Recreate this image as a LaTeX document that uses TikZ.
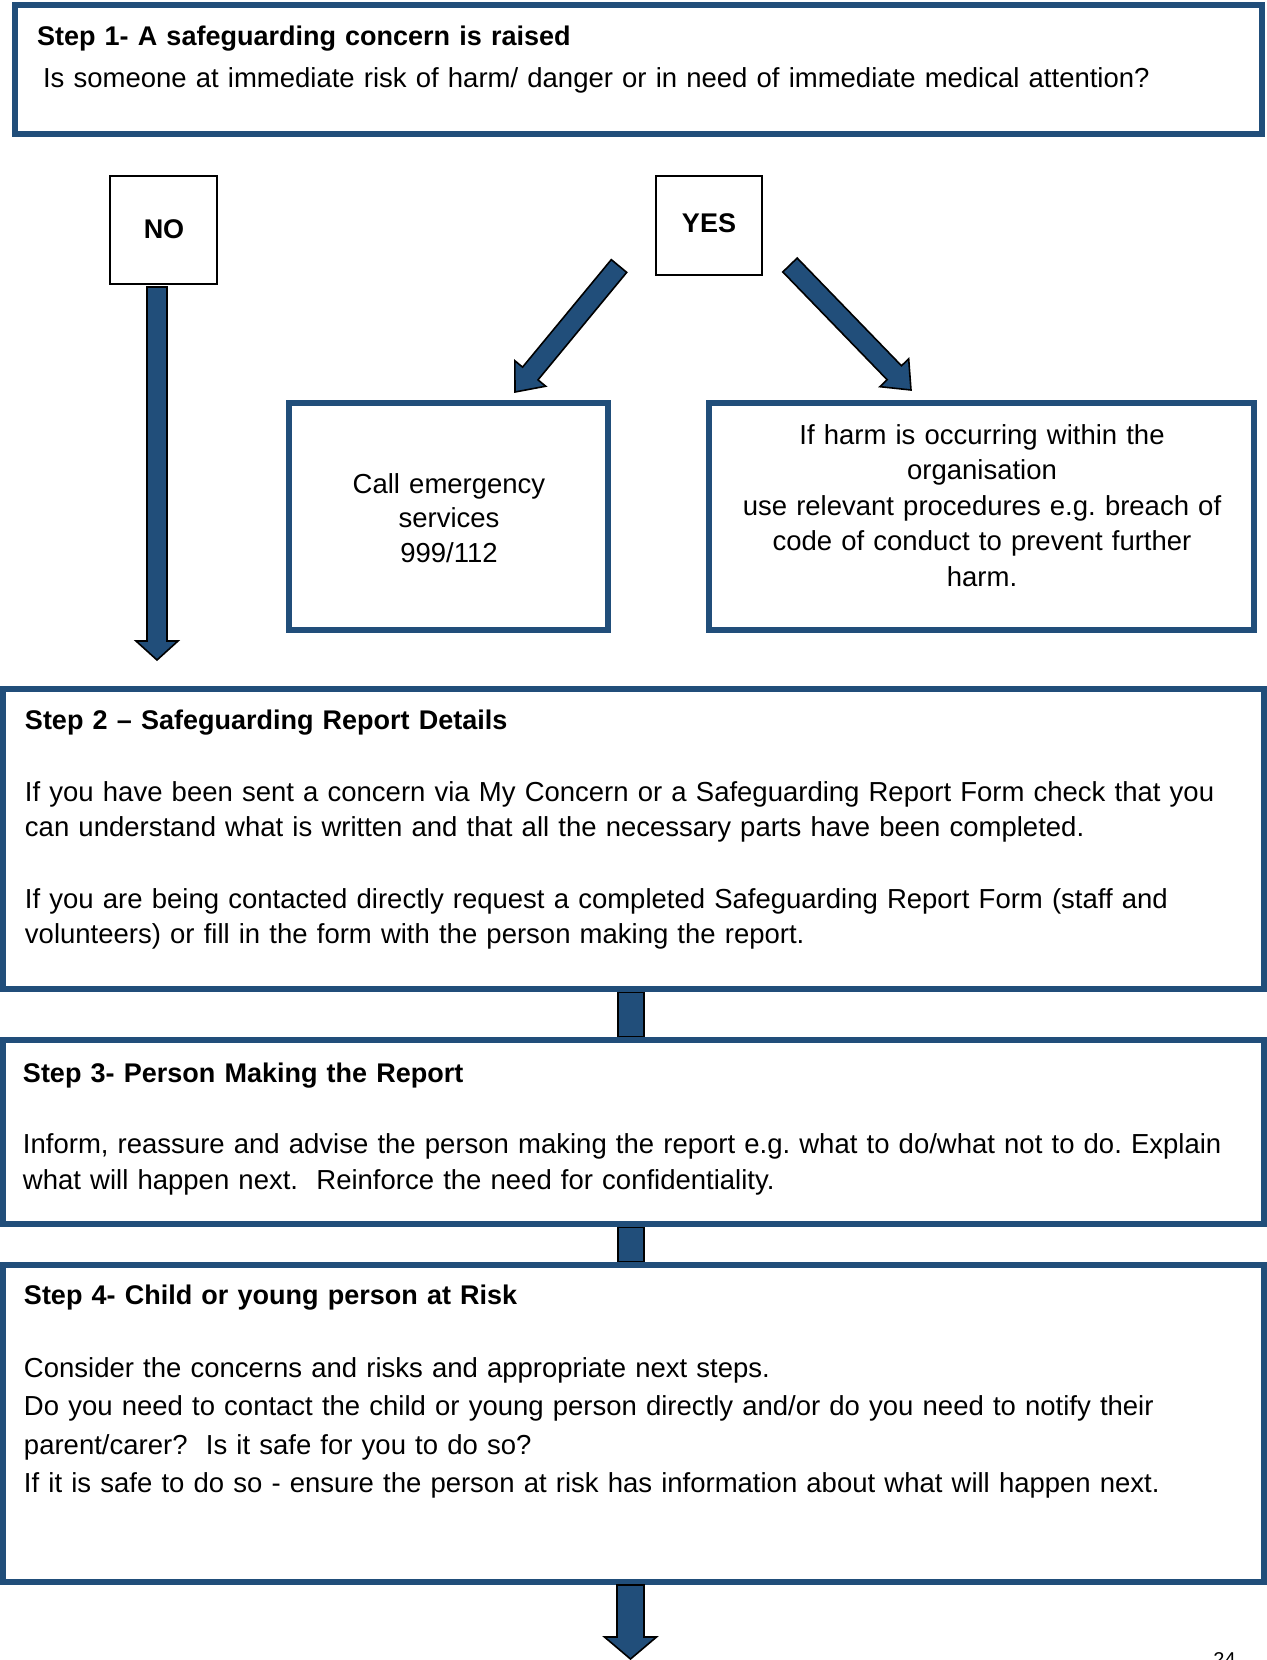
\documentclass[tikz,border=0pt]{standalone}
\usepackage{fontspec}
\setmainfont{Liberation Sans}
\usetikzlibrary{calc}
\definecolor{navy}{RGB}{33,78,122}
\newcommand\blockarrow[5]{%
  \coordinate (bah) at ($(#2)!#5!(#1)$);
  \draw[fatarrow] ($(#1)!#3!90:(#2)$) -- ($(bah)!#3!90:(#2)$) -- ($(bah)!#4!90:(#2)$) -- (#2)
    -- ($(bah)!#4!-90:(#2)$) -- ($(bah)!#3!-90:(#2)$) -- ($(#1)!#3!-90:(#2)$) -- cycle;}
\newcommand\ttl[1]{{\fontsize{13.5}{17}\selectfont\bfseries #1}}
\begin{document}
\frenchspacing
\begin{tikzpicture}[x=0.5pt,y=-0.5pt,
  bluebox/.style={draw=navy, line width=3pt, fill=white, inner sep=0pt, outer sep=0pt},
  thinbox/.style={draw=black, line width=0.8pt, fill=white, inner sep=0pt, outer sep=0pt},
  fatarrow/.style={fill=navy, draw=black, line width=0.8pt, line join=miter},
  txt/.style={inner sep=0pt, outer sep=0pt, anchor=base west, text width=620pt, align=left},
  ctxt/.style={inner sep=0pt, outer sep=0pt, anchor=base, align=center},
]
\useasboundingbox (0,0) rectangle (1267,1660);
\fill[white] (0,0) rectangle (1267,1660);

% Step boxes
\node[bluebox, minimum width=623.5pt, minimum height=64.5pt] (s1) at (638.5,69.5) {};
\node[bluebox, minimum width=630.5pt, minimum height=150pt] (s2) at (633.5,839) {};
\node[bluebox, minimum width=630.5pt, minimum height=92pt] (s3) at (633.5,1132) {};
\node[bluebox, minimum width=630.5pt, minimum height=158.5pt] (s4) at (633.5,1423.5) {};

% connector shafts drawn from box to box
\draw[fatarrow] ($(s2.south)+(-15.5,3)$) rectangle ($(s3.north)+(10.5,-3)$);
\draw[fatarrow] ($(s3.south)+(-15.5,3)$) rectangle ($(s4.north)+(10.5,-3)$);
\draw[navy, line width=3pt] (s2.south west) -- (s2.south east);
\draw[navy, line width=3pt] (s3.north west) -- (s3.north east);
\draw[navy, line width=3pt] (s3.south west) -- (s3.south east);
\draw[navy, line width=3pt] (s4.north west) -- (s4.north east);

% NO / YES
\node[thinbox, minimum width=53.5pt, minimum height=54pt] (no) at (163.5,230) {};
\node[ctxt, font=\fontsize{13.5}{16}\selectfont\bfseries] at (164,238) {NO};
\node[thinbox, minimum width=53pt, minimum height=49.5pt] (yes) at (709,225.5) {};
\node[ctxt, font=\fontsize{13.5}{16}\selectfont\bfseries] at (709,232) {YES};

% Yes outcome boxes
\node[bluebox, minimum width=159.5pt, minimum height=113.5pt] (call) at (448.5,516.5) {};
\node[bluebox, minimum width=272.5pt, minimum height=113.5pt] (harm) at (981.5,516.5) {};

% arrows
\coordinate (noT) at ($(no.south)+(-6.5,3)$);
\coordinate (noH) at ($(s2.north west)+(154,-29)$);
\blockarrow{noT}{noH}{5pt}{10.5pt}{9.5pt}
\coordinate (ylT) at ($(yes.south west)+(-37,-9)$);
\coordinate (ylH) at ($(call.north)+(66.5,-11)$);
\blockarrow{ylT}{ylH}{5pt}{10pt}{12pt}
\coordinate (yrT) at ($(yes.south east)+(28,-10)$);
\coordinate (yrH) at ($(harm.north west)+(202,-13)$);
\blockarrow{yrT}{yrH}{5pt}{10pt}{12pt}
\coordinate (s4T) at ($(s4.south)+(-3,3)$);
\coordinate (s4H) at (630.5,1659);
\blockarrow{s4T}{s4H}{6.75pt}{13pt}{11pt}

% texts
\node[txt, font=\fontsize{13.75}{21}\selectfont] at (37,45)
  {\ttl{Step 1- A safeguarding concern is raised}\\
   \hspace*{3pt}Is someone at immediate risk of harm/ danger or in need of immediate medical attention?};

\node[ctxt, text width=150pt, font=\fontsize{13.75}{17.25}\selectfont] at (449,493)
  {Call emergency\\ services\\ 999/112};

\node[ctxt, text width=272pt, font=\fontsize{13.75}{17.75}\selectfont] at (982,444)
  {If harm is occurring within the\\ organisation\\ use relevant procedures e.g. breach of\\ code of conduct to prevent further\\ harm.};

\node[txt, font=\fontsize{13.75}{17.5}\selectfont] at (25,729)
  {\ttl{Step 2 – Safeguarding Report Details}\\[18.5pt]
   If you have been sent a concern via My Concern or a Safeguarding Report Form check that you\\
   can understand what is written and that all the necessary parts have been completed.\\[18.5pt]
   If you are being contacted directly request a completed Safeguarding Report Form (staff and\\
   volunteers) or fill in the form with the person making the report.};

\node[txt, font=\fontsize{13.75}{18}\selectfont] at (23,1082)
  {\ttl{Step 3- Person Making the Report}\\[17.5pt]
   Inform, reassure and advise the person making the report e.g. what to do/what not to do. Explain\\
   what will happen next.\ \ Reinforce the need for confidentiality.};

\node[txt, font=\fontsize{13.75}{19.25}\selectfont] at (24,1304)
  {\ttl{Step 4- Child or young person at Risk}\\[17.25pt]
   Consider the concerns and risks and appropriate next steps.\\
   Do you need to contact the child or young person directly and/or do you need to notify their\\
   parent/carer?\ \ Is it safe for you to do so?\\
   If it is safe to do so - ensure the person at risk has information about what will happen next.};

\node[inner sep=0pt, anchor=north west, font=\fontsize{10}{12}\selectfont] (pg) at (1213,1652) {24};
\end{tikzpicture}
\end{document}
